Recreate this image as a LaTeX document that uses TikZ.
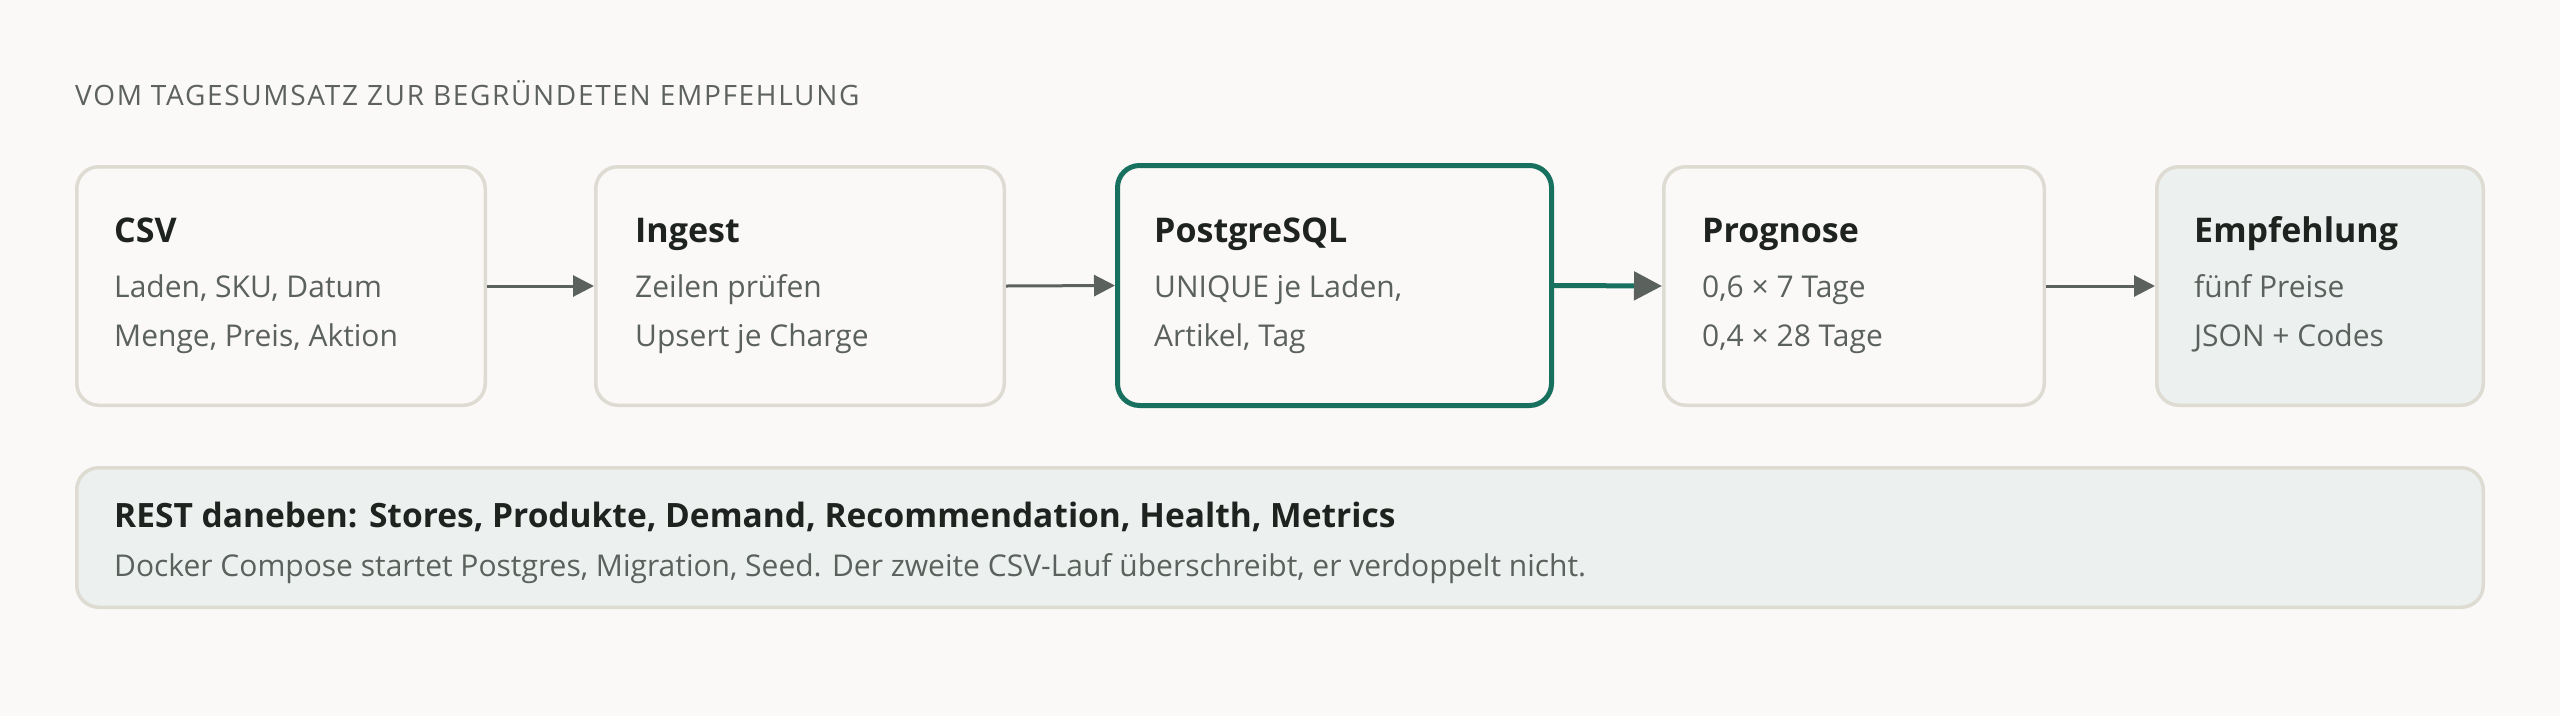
\documentclass[tikz,border=0pt]{standalone}
\usepackage{fontspec}
\setmainfont{Open Sans}
\newfontfamily\hdfont{Open Sans}[LetterSpace=6]
\usetikzlibrary{arrows.meta}
\definecolor{bg}{HTML}{FAF9F7}
\definecolor{bordc}{HTML}{DDDBD2}
\definecolor{tealc}{HTML}{18705F}
\definecolor{arrc}{HTML}{5B625D}
\definecolor{softfill}{HTML}{ECF0EE}
\definecolor{ttlc}{HTML}{1E2320}
\definecolor{bodyc}{HTML}{5B615D}
\definecolor{hdc}{HTML}{5D625E}
\tikzset{
  box/.style={draw=bordc, line width=3.5pt, rounded corners=22pt, fill=bg, inner sep=0pt, minimum height=238.5pt},
  hibox/.style={box, draw=tealc, line width=5pt, minimum height=240pt},
  ttl/.style={anchor=base west, inner sep=0pt, text=ttlc, font=\fontsize{34}{40}\selectfont\bfseries},
  bodytxt/.style={anchor=base west, inner sep=0pt, text=bodyc, font=\fontsize{30}{35}\selectfont},
  conn/.style={draw=arrc, line width=3pt, -{Triangle[length=21pt,width=21pt]}},
  hiconn/.style={draw=tealc, line width=5pt, -{Triangle[length=28pt,width=28pt,color=arrc]}},
}
\begin{document}
\begin{tikzpicture}[x=1pt,y=-1pt]
\useasboundingbox (0,0) rectangle (2560,716);
\fill[bg] (0,0) rectangle (2560,716);
\node[anchor=base west, inner sep=0pt, text=hdc, font=\fontsize{28}{32}\selectfont\hdfont] (hd) at (75,105) {VOM TAGESUMSATZ ZUR BEGRÜNDETEN EMPFEHLUNG};
% boxes
\node[box, minimum width=408.5pt] (csv) at (281,286) {};
\node[box, minimum width=408.5pt] (ing) at (800,286) {};
\node[hibox, minimum width=434pt] (pg) at (1334.5,285.5) {};
\node[box, minimum width=380.5pt] (prog) at (1854,286) {};
\node[box, fill=softfill, minimum width=326.5pt] (emp) at (2320,286) {};
\node[box, fill=softfill, minimum width=2406.5pt, minimum height=139.5pt] (rest) at (1280,537.5) {};
% texts
\node[ttl] (csvT) at (114,242) {CSV};
\node[bodytxt] (csvA) at (114,297) {Laden, SKU, Datum};
\node[bodytxt] (csvB) at (114,346) {Menge, Preis, Aktion};
\node[ttl] (ingT) at (635,242) {Ingest};
\node[bodytxt] (ingA) at (635,297) {Zeilen prüfen};
\node[bodytxt] (ingB) at (635,346) {Upsert je Charge};
\node[ttl] (pgT) at (1154,242) {PostgreSQL};
\node[bodytxt] (pgA) at (1154,297) {UNIQUE je Laden,};
\node[bodytxt] (pgB) at (1154,346) {Artikel, Tag};
\node[ttl] (progT) at (1702,242) {Prognose};
\node[bodytxt] (progA) at (1702,297) {0,6 × 7 Tage};
\node[bodytxt] (progB) at (1702,346) {0,4 × 28 Tage};
\node[ttl] (empT) at (2194,242) {Empfehlung};
\node[bodytxt] (empA) at (2194,297) {fünf Preise};
\node[bodytxt] (empB) at (2194,346) {JSON + Codes};
\node[ttl, font=\fontsize{33.5}{40}\selectfont\bfseries] (restT) at (114,527) {REST daneben: Stores, Produkte, Demand, Recommendation, Health, Metrics};
\node[bodytxt] (restB) at (114,576) {Docker Compose startet Postgres, Migration, Seed. Der zweite CSV-Lauf überschreibt, er verdoppelt nicht.};
% connectors
\draw[conn] (csv.east) -- (ing.west);
\draw[conn] (ing.east) -- (pg.west);
\draw[hiconn] (pg.east) -- (prog.west);
\draw[conn] (prog.east) -- (emp.west);
\end{tikzpicture}
\end{document}
